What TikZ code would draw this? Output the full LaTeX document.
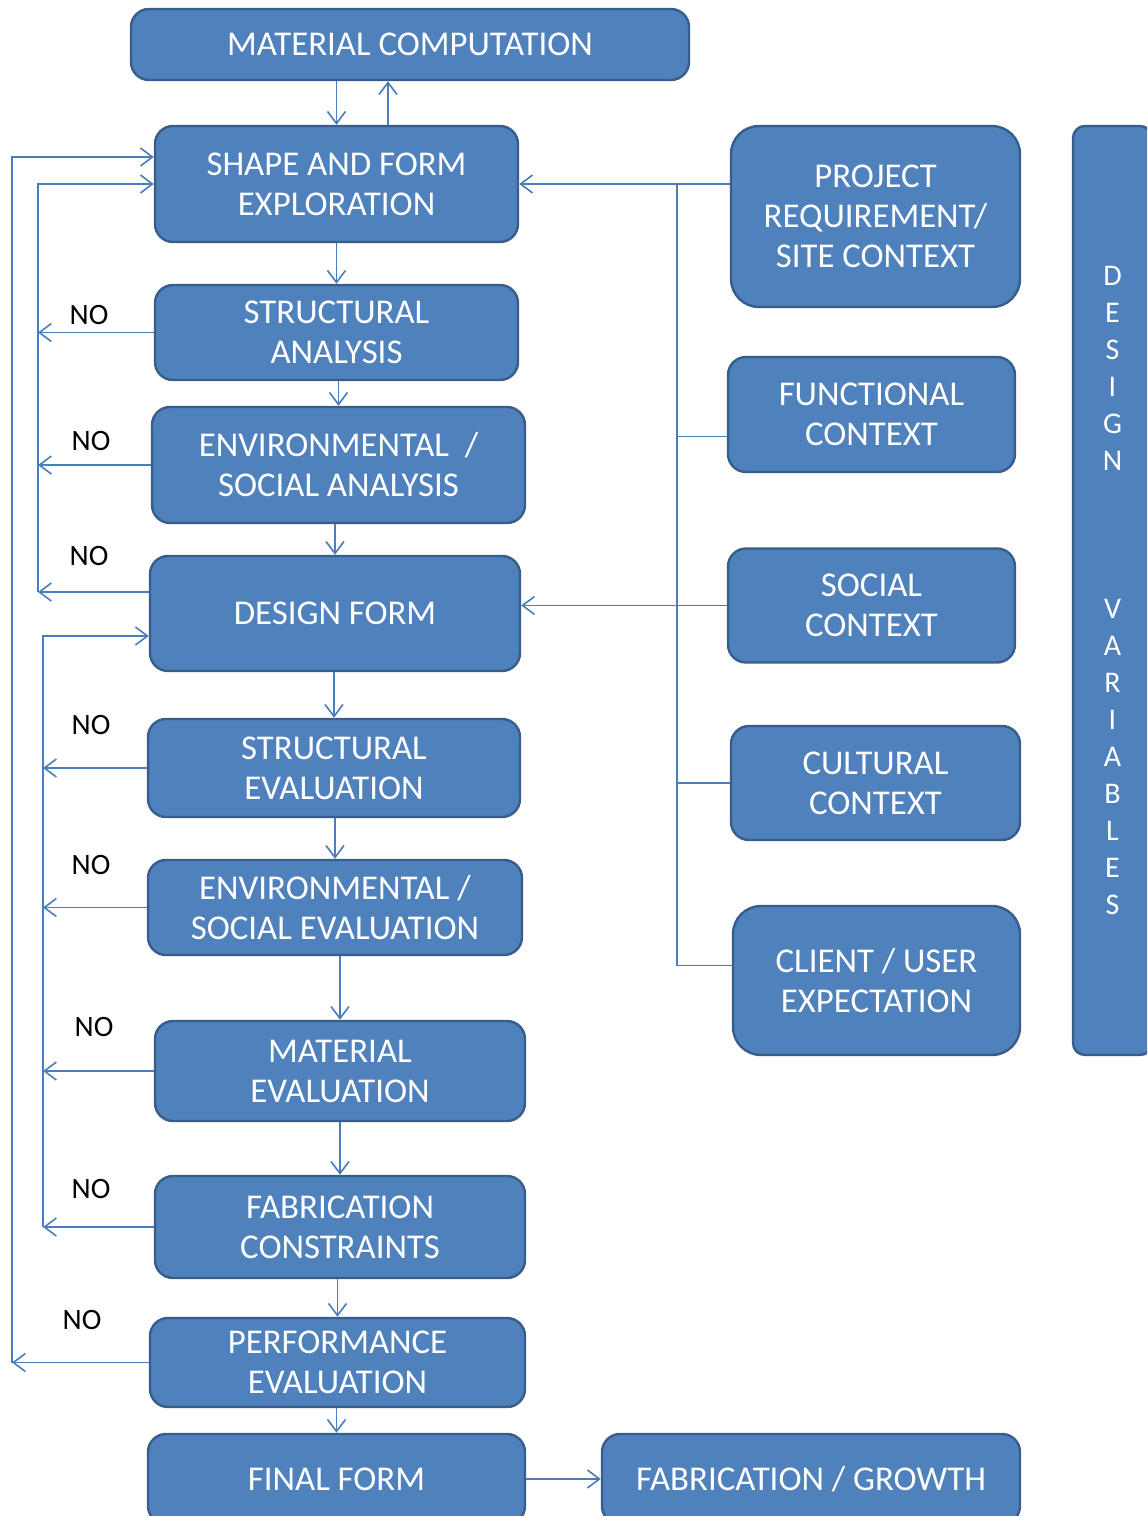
\documentclass[tikz,border=0pt]{standalone}
\usepackage{fontspec}
\setmainfont{Carlito}
\usetikzlibrary{arrows.meta}

\definecolor{boxfill}{HTML}{4F81BD}
\definecolor{boxline}{HTML}{385D8A}
\definecolor{arrline}{HTML}{4A7EBB}

\begin{document}
\begin{tikzpicture}[x=0.5pt,y=-0.5pt,
    box/.style={draw=boxline,line width=1.2pt,fill=boxfill,rounded corners=9pt,
        text=white,align=center,inner sep=0pt,font=\fontsize{17.4}{20}\selectfont},
    flow/.style={draw=arrline,line width=0.8pt,-{Straight Barb[length=6pt,width=9pt]}},
    link/.style={draw=arrline,line width=0.8pt},
    nolabel/.style={font=\fontsize{14.8}{16}\selectfont,text=black}]
            \clip (0,0) rectangle (1147,1516);

            % main chain
            \node (mc) at (410,44.5) [box,minimum width=279pt,minimum height=35.5pt] {MATERIAL COMPUTATION};
            \node (sfe) at (336.5,184) [box,minimum width=181.5pt,minimum height=58pt] {SHAPE AND FORM\\EXPLORATION};
            \node (sa) at (336.5,332.5) [box,minimum width=181.5pt,minimum height=47.5pt] {STRUCTURAL\\ANALYSIS};
            \node (esa) at (338.5,465) [box,minimum width=186.5pt,minimum height=58pt] {ENVIRONMENTAL~ /\\SOCIAL ANALYSIS};
            \node (df) at (335,613.5) [box,minimum width=185pt,minimum height=57.5pt] {DESIGN FORM};
            \node (se) at (334,768) [box,minimum width=186pt,minimum height=49pt] {STRUCTURAL\\EVALUATION};
            \node (ese) at (335,907.5) [box,minimum width=187pt,minimum height=47.5pt] {ENVIRONMENTAL /\\SOCIAL EVALUATION};
            \node (me) at (340,1071) [box,minimum width=185pt,minimum height=50pt] {MATERIAL\\EVALUATION};
            \node (fc) at (340,1227) [box,minimum width=185pt,minimum height=51pt] {FABRICATION\\CONSTRAINTS};
            \node (pe) at (337.5,1362.5) [box,minimum width=187.5pt,minimum height=44.5pt] {PERFORMANCE\\EVALUATION};
            \node (ff) at (336.5,1479) [box,minimum width=188.5pt,minimum height=45pt] {FINAL FORM};
            \node (fg) at (811,1479) [box,minimum width=209pt,minimum height=45pt] {FABRICATION / GROWTH};

            % design variables
            \node (pr) at (875.5,216.5) [box,rounded corners=14pt,minimum width=144.5pt,minimum height=90.5pt] {PROJECT\\REQUIREMENT/\\SITE CONTEXT};
            \node (fnc) at (871.5,414.5) [box,minimum width=143.5pt,minimum height=57.5pt] {FUNCTIONAL\\CONTEXT};
            \node (sc) at (871.5,605.5) [box,minimum width=143.5pt,minimum height=57pt] {SOCIAL\\CONTEXT};
            \node (cc) at (875.5,783) [box,minimum width=144.5pt,minimum height=57pt] {CULTURAL\\CONTEXT};
            \node (cue) at (876.5,980.5) [box,rounded corners=14pt,minimum width=143.5pt,minimum height=74.5pt] {CLIENT / USER\\EXPECTATION};
            \node (dv) at (1112.5,590.5) [box,rounded corners=6pt,minimum width=39.5pt,minimum height=464.5pt,
                font=\fontsize{15}{18.5}\selectfont] {D\\E\\S\\I\\G\\N\\[55.5pt]V\\A\\R\\I\\A\\B\\L\\E\\S};

            \coordinate (lo) at (12,0);
            \coordinate (li) at (38,0);
            \coordinate (lj) at (43,0);
            \coordinate (bus) at (677,0);

            % forward flow
            \draw [flow] (sfe.north |- mc.south) -- (sfe.north);
            \draw [flow] ([xshift=25.75pt]sfe.north) -- ([xshift=25.75pt]sfe.north |- mc.south);
            \foreach \a/\b in {sfe/sa, sa/esa, esa/df, df/se, se/ese, ese/me, me/fc, fc/pe, pe/ff}
                {
                    \draw [flow] (\a.south -| \b.north) -- (\b.north);
                }
            \draw [flow] (ff.east) -- (fg.west);

            % NO loops
            \foreach \n in {sa, esa}
                \draw [flow] (\n.west) -- (\n.west -| li);
            \draw [flow] ([yshift=10.75pt]df.west) -- ([yshift=10.75pt]df.west -| li);
            \draw [flow] ([yshift=10.75pt]df.west -| li) -- (sfe.west -| li) -- (sfe.west);

            \foreach \n in {se, ese, me, fc}
                \draw [flow] (\n.west) -- (\n.west -| lj);
            \draw [flow] (fc.west -| lj) -- ([yshift=-11.25pt]df.west -| lj) -- ([yshift=-11.25pt]df.west);

            \draw [flow] (pe.west) -- (pe.west -| lo);
            \draw [flow] (pe.west -| lo) -- ([yshift=13.5pt]sfe.west -| lo) -- ([yshift=13.5pt]sfe.west);

            \foreach \x/\y [count=\i] in {89/315, 91/441, 89/556, 91/725, 91/865, 94/1027, 91/1189, 82/1320}
                \node (no\i) at (\x,\y) [nolabel] {NO};

            % variables bus
            \draw [flow] (sfe.east -| pr.west) -- (sfe.east);
            \draw [flow] (sc.west) -- (sc.west -| df.east);
            \draw [link] (sfe.east -| bus) -- ([yshift=7.5pt]cue.west -| bus);
            \draw [link] ([yshift=-11pt]fnc.west) -- ([yshift=-11pt]fnc.west -| bus);
            \draw [link] (cc.west) -- (cc.west -| bus);
            \draw [link] ([yshift=7.5pt]cue.west) -- ([yshift=7.5pt]cue.west -| bus);

        \end{tikzpicture}
\end{document}
